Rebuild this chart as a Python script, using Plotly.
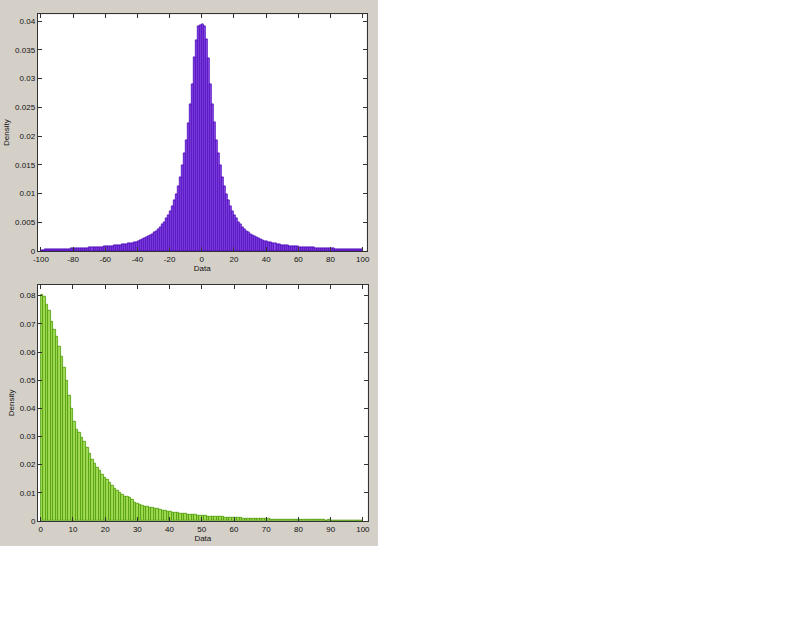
import plotly.graph_objects as go

# ---------------- data ----------------
top_bin_start = -100.0
top_bin_width = 1.25
# density per bin, -100 .. 0 (80 bins)
top_density_left = [
    0.00018, 0.00020, 0.00023, 0.00022, 0.00026, 0.00025, 0.00029, 0.00027,
    0.00030, 0.00031, 0.00032, 0.00035, 0.00036, 0.00038, 0.00038, 0.00041,
    0.00043, 0.00042, 0.00046, 0.00048, 0.00048, 0.00051, 0.00053, 0.00055,
    0.00056, 0.00059, 0.00060, 0.00063, 0.00065, 0.00068, 0.00070, 0.00074,
    0.00076, 0.00080, 0.00084, 0.00087, 0.00091, 0.00096, 0.00099, 0.00105,
    0.00109, 0.00116, 0.00121, 0.00128, 0.00135, 0.00141, 0.00153, 0.00160,
    0.00174, 0.00186, 0.00203, 0.00216, 0.00235, 0.00249, 0.00275, 0.00294,
    0.00324, 0.00348, 0.00386, 0.00418, 0.00465, 0.00505, 0.00566, 0.00620,
    0.00690, 0.00770, 0.00885, 0.00980, 0.01130, 0.01280, 0.01500, 0.01695,
    0.01935, 0.02220, 0.02560, 0.02895, 0.03365, 0.03670, 0.03915, 0.03935,
]
# density per bin, 0 .. 100 (80 bins)
top_density_right = [
    0.03945, 0.03905, 0.03680, 0.03350, 0.02910, 0.02545, 0.02235, 0.01925,
    0.01705, 0.01490, 0.01285, 0.01125, 0.00985, 0.00878, 0.00775, 0.00685,
    0.00618, 0.00562, 0.00508, 0.00462, 0.00421, 0.00382, 0.00351, 0.00321,
    0.00298, 0.00272, 0.00251, 0.00232, 0.00218, 0.00201, 0.00188, 0.00172,
    0.00161, 0.00151, 0.00143, 0.00133, 0.00127, 0.00119, 0.00115, 0.00107,
    0.00104, 0.00097, 0.00095, 0.00089, 0.00086, 0.00083, 0.00078, 0.00077,
    0.00072, 0.00071, 0.00067, 0.00066, 0.00062, 0.00061, 0.00057, 0.00057,
    0.00053, 0.00054, 0.00050, 0.00049, 0.00046, 0.00047, 0.00043, 0.00042,
    0.00040, 0.00039, 0.00036, 0.00037, 0.00034, 0.00033, 0.00030, 0.00031,
    0.00028, 0.00028, 0.00026, 0.00027, 0.00024, 0.00024, 0.00022, 0.00021,
]
top_density = top_density_left + top_density_right

bot_bin_start = 0.0
bot_bin_width = 0.78125
# density per bin, 0 .. 100 (128 bins)
bot_density = [
    0.0803, 0.0795, 0.0768, 0.0745, 0.0708, 0.0680, 0.0655, 0.0618,
    0.0585, 0.0545, 0.0498, 0.0445, 0.0398, 0.0352, 0.0325, 0.0312,
    0.0295, 0.0280, 0.0262, 0.0240, 0.0218, 0.0203, 0.0188, 0.0178,
    0.0165, 0.0152, 0.0145, 0.0137, 0.0126, 0.0116, 0.0108, 0.0100,
    0.0093, 0.0088, 0.0085, 0.0081, 0.0074, 0.0066, 0.0060, 0.0057,
    0.0054, 0.0052, 0.0050, 0.0049, 0.0047, 0.0045, 0.0043, 0.0041,
    0.0038, 0.0036, 0.0034, 0.0033, 0.0031, 0.0030, 0.0028, 0.0027,
    0.0026, 0.0025, 0.0024, 0.0023, 0.0022, 0.0021, 0.0020, 0.0019,
    0.00182, 0.00174, 0.00168, 0.00161, 0.00156, 0.00149, 0.00146, 0.00139,
    0.00136, 0.00129, 0.00126, 0.00121, 0.00119, 0.00111, 0.00109, 0.00102,
    0.00099, 0.00093, 0.00091, 0.00085, 0.00083, 0.00078, 0.00077, 0.00072,
    0.00071, 0.00067, 0.00066, 0.00061, 0.00061, 0.00057, 0.00057, 0.00053,
    0.00053, 0.00049, 0.00049, 0.00045, 0.00046, 0.00042, 0.00043, 0.00039,
    0.00040, 0.00037, 0.00037, 0.00034, 0.00035, 0.00032, 0.00033, 0.00030,
    0.00031, 0.00028, 0.00029, 0.00026, 0.00028, 0.00025, 0.00026, 0.00023,
    0.00025, 0.00022, 0.00023, 0.00021, 0.00022, 0.00019, 0.00021, 0.00024,
]

top_xticks = [-100, -80, -60, -40, -20, 0, 20, 40, 60, 80, 100]
top_xticklabels = ["-100", "-80", "-60", "-40", "-20", "0", "20", "40", "60", "80", "100"]
top_yticks = [0, 0.005, 0.01, 0.015, 0.02, 0.025, 0.03, 0.035, 0.04]
top_yticklabels = ["0", "0.005", "0.01", "0.015", "0.02", "0.025", "0.03", "0.035", "0.04"]
bot_xticks = [0, 10, 20, 30, 40, 50, 60, 70, 80, 90, 100]
bot_xticklabels = ["0", "10", "20", "30", "40", "50", "60", "70", "80", "90", "100"]
bot_yticks = [0, 0.01, 0.02, 0.03, 0.04, 0.05, 0.06, 0.07, 0.08]
bot_yticklabels = ["0", "0.01", "0.02", "0.03", "0.04", "0.05", "0.06", "0.07", "0.08"]

x_title = "Data"
y_title = "Density"

# ---------------- figure ----------------
top_x = [top_bin_start + top_bin_width * (i + 0.5) for i in range(len(top_density))]
bot_x = [bot_bin_start + bot_bin_width * (i + 0.5) for i in range(len(bot_density))]

W, H = 378, 546
fig = go.Figure()
fig.add_trace(go.Bar(
    x=top_x, y=top_density, width=top_bin_width,
    marker=dict(color="#8c50ea", line=dict(color="#4800b8", width=0.8)),
    xaxis="x", yaxis="y", showlegend=False,
))
fig.add_trace(go.Bar(
    x=bot_x, y=bot_density, width=bot_bin_width,
    marker=dict(color="#a2da55", line=dict(color="#4c9a08", width=0.8)),
    xaxis="x2", yaxis="y2", showlegend=False,
))

font = dict(family="Liberation Sans, Arial, sans-serif", size=8, color="#111")
axcommon = dict(
    showline=True, linecolor="#333", linewidth=1, mirror="ticks",
    ticks="inside", ticklen=4, tickcolor="#333", showgrid=False,
    zeroline=False, tickfont=font, automargin=False,
)

fig.update_layout(
    width=W, height=H,
    margin=dict(l=0, r=0, t=0, b=0),
    paper_bgcolor="#d4d0c8", plot_bgcolor="white",
    bargap=0, font=font,
    xaxis=dict(axcommon, domain=[37.7 / W, 366.7 / W], range=[-102, 102.5],
               tickvals=top_xticks, ticktext=top_xticklabels, anchor="y",
               title=dict(text=x_title, font=font, standoff=2)),
    yaxis=dict(axcommon, domain=[1 - 251 / H, 1 - 14.3 / H], range=[0, 0.0412],
               tickvals=top_yticks, ticktext=top_yticklabels, anchor="x",
               title=dict(text=y_title, font=font, standoff=4)),
    xaxis2=dict(axcommon, domain=[38 / W, 367.7 / W], range=[-0.84, 101.5],
                tickvals=bot_xticks, ticktext=bot_xticklabels, anchor="y2",
                title=dict(text=x_title, font=font, standoff=2)),
    yaxis2=dict(axcommon, domain=[1 - 521 / H, 1 - 284.7 / H], range=[0, 0.0839],
                tickvals=bot_yticks, ticktext=bot_yticklabels, anchor="x2",
                title=dict(text=y_title, font=font, standoff=4)),
)

fig.write_html("out.html", config={"displayModeBar": False},
               post_script="document.body.style.margin='0';")
